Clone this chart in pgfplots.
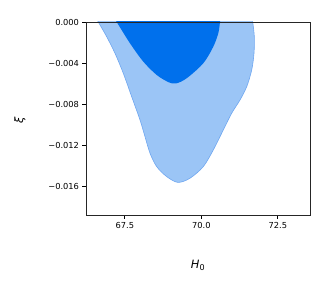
\documentclass[border=0pt]{standalone}
\usepackage{fontspec}
\setmainfont{DejaVu Sans}
\usepackage{pgfplots}
\pgfplotsset{compat=1.18}
\definecolor{darkb}{RGB}{0,112,236}
\definecolor{lightb}{RGB}{155,197,246}
\definecolor{edgeb}{RGB}{110,166,240}
\begin{document}
\begin{tikzpicture}
\path[use as bounding box] (-86bp,-73bp) rectangle (246bp,215bp);
\begin{axis}[at={(0,0)}, anchor=south west, scale only axis,
  width=224bp, height=193bp,
  xmin=66.23, xmax=73.55, ymin=-0.01875, ymax=0,
  scaled y ticks=false, scaled x ticks=false,
  xtick={67.5,70,72.5}, xticklabels={67.5,70.0,72.5},
  ytick={-0.016,-0.012,-0.008,-0.004,0},
  yticklabels={−0.016,−0.012,−0.008,−0.004,0.000},
  tick align=outside, xtick pos=bottom, ytick pos=left,
  major tick length=3.5bp,
  tick style={black, line width=0.8bp},
  axis line style={line width=0.8bp, black!85},
  ticklabel style={font=\fontsize{8.3}{10}\selectfont},
  axis on top,
  xlabel={\textit{H}\textsubscript{0}},
  ylabel={\itshape ξ},
  label style={font=\fontsize{11.5}{13}\selectfont},
  xlabel style={at={(axis description cs:0.5,-0.259)}, anchor=center},
  ylabel style={at={(axis description cs:-0.295,0.492)}, anchor=center},
]
\addplot[fill=lightb, draw=edgeb, line width=0.6bp, smooth, tension=0.5] coordinates {
(66.40,0.0012) (66.632,0) (66.906,-0.001427) (67.178,-0.003039) (67.449,-0.004980)
(67.723,-0.007253) (67.995,-0.009515) (68.158,-0.011136) (68.322,-0.012748)
(68.540,-0.014049) (68.867,-0.015020) (69.236,-0.015583) (69.629,-0.015175)
(70.063,-0.014049) (70.390,-0.012427) (70.717,-0.010485) (70.991,-0.008864)
(71.263,-0.007573) (71.482,-0.006282) (71.645,-0.004660) (71.720,-0.003039)
(71.730,-0.001427) (71.678,0) (71.61,0.0012)
} -- cycle;
\addplot[fill=darkb, draw=none, smooth, tension=0.5] coordinates {
(66.98,0.0012) (67.233,0) (67.668,-0.002068) (68.103,-0.003854) (68.54,-0.005146)
(68.93,-0.00585) (69.17,-0.00597) (69.52,-0.00547) (70.063,-0.004010)
(70.390,-0.002398) (70.553,-0.001097) (70.609,0) (70.65,0.0012)
} -- cycle;
\end{axis}
\end{tikzpicture}
\end{document}
